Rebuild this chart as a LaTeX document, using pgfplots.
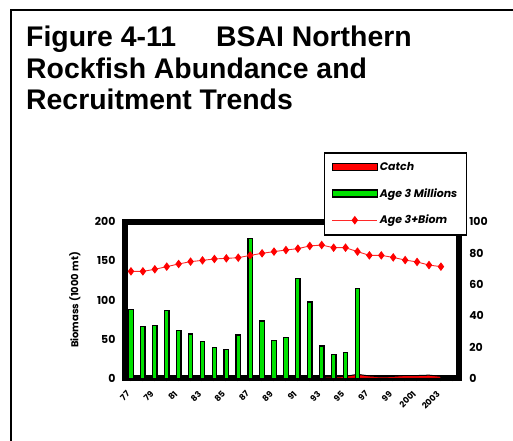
\documentclass[border=0pt]{standalone}
\usepackage{pgfplots}
\pgfplotsset{compat=1.18}
\usepackage{fontspec}
\setmainfont{Liberation Sans}
\newfontfamily\comic{Poppins}

\pgfplotstableread{
idx catch
0 0
1 0
2 0
3 0
4 0
5 0
6 0
7 0
8 0
9 0
10 0
11 0
12 0
13 0
14 0
15 0
16 1.5
17 2.0
18 2.5
19 5.0
20 3.0
21 2.0
22 2.5
23 3.5
24 3.5
25 4.0
26 2.5
}\catchtab

\pgfplotstableread{
idx age3
0 44.0
1 32.9
2 33.6
3 43.4
4 30.4
5 28.3
6 23.6
7 19.8
8 18.3
9 27.6
10 89.4
11 36.6
12 24.1
13 26.2
14 63.9
15 48.7
16 20.7
17 15.1
18 16.4
19 57.3
}\agetab

\pgfplotstableread{
idx biom
0 136.6
1 136.6
2 139.2
3 142.6
4 146.0
5 149.0
6 150.6
7 152.4
8 153.2
9 154.0
10 157.0
11 159.6
12 161.8
13 163.8
14 165.6
15 169.0
16 170.2
17 166.8
18 166.8
19 161.8
20 157.0
21 157.0
22 154.4
23 151.0
24 148.6
25 144.6
26 142.6
}\biomtab

\definecolor{bargreen}{RGB}{0,225,0}
\definecolor{biomred}{RGB}{255,40,40}

\pgfplotsset{
  base/.style={
    at={(125bp,62.7bp)}, anchor=south west,
    width=333.8bp, height=156.6bp, scale only axis,
    xmin=-0.5, xmax=27.5,
    axis line style={line width=6bp},
    tick style={line width=2bp, black},
    major tick length=3bp, minor tick length=3bp,
    /pgf/number format/assume math mode=true,
    ticklabel style={font=\comic\bfseries\fontsize{11}{13}\selectfont},
  }
}

\begin{document}
\begin{tikzpicture}
\useasboundingbox (0bp,0bp) rectangle (513bp,441bp);
\draw[line width=2bp] (11bp,-5bp) -- (11bp,431bp) -- (520bp,431bp);
\node[anchor=base west,inner sep=0pt,font=\bfseries\fontsize{28.5}{32}\selectfont] at (26bp,394.8bp) {Figure 4-11\hspace*{40bp}BSAI Northern};
\node[anchor=base west,inner sep=0pt,font=\bfseries\fontsize{28.5}{32}\selectfont] at (26bp,362.5bp) {Rockfish Abundance and};
\node[anchor=base west,inner sep=0pt,font=\bfseries\fontsize{28.5}{32}\selectfont] at (26bp,331.5bp) {Recruitment Trends};

% left axis: catch
\begin{axis}[base,
  ymin=0, ymax=200, ytick={0,50,...,200},
  xtick={0,2,...,26}, minor xtick={1,3,...,27},
  xtick pos=left, ytick pos=left, tick align=outside,
  xticklabels={77,79,81,83,85,87,89,91,93,95,97,99,2001,2003},
  xticklabel style={xshift=-5bp, yshift=-8bp, rotate=45, anchor=north east, font=\comic\bfseries\fontsize{8.5}{10}\selectfont, inner sep=0.5bp},
  yticklabel style={xshift=-3bp},
  ylabel={Biomass (1000 mt)},
  every axis y label/.style={at={(axis description cs:-0.15,0.5)}, rotate=90, anchor=center, font=\comic\bfseries\fontsize{10}{12}\selectfont},
]
\addplot[fill=red, draw=black, line width=1bp] table[x=idx,y=catch] {\catchtab} \closedcycle;
\end{axis}

% right axis: age 3 recruits
\begin{axis}[base,
  axis y line*=right, axis x line=none,
  ymin=0, ymax=100, ytick={0,20,...,100}, tick align=inside,
  yticklabel style={xshift=7bp},
]
\addplot[ybar, bar width=4.5bp, bar shift=0pt, fill=bargreen, draw=black, line width=1.3bp] table[x=idx,y=age3] {\agetab};
\end{axis}

% biomass on left scale, with legend
\begin{axis}[base, hide axis,
  ymin=0, ymax=200,
  legend style={at={(axis description cs:0.596,1.445)}, anchor=north west,
    draw=black, line width=1.5bp, fill=white,
    font=\comic\bfseries\itshape\fontsize{11}{12}\selectfont,
    row sep=12.5bp, inner xsep=7bp, inner ysep=7.5bp,
    legend cell align=left},
]
\addlegendimage{legend image code/.code={\draw[fill=red,draw=black,line width=1.2bp] (0bp,-3.5bp) rectangle (45bp,3.5bp);}}
\addlegendentry{Catch}
\addlegendimage{legend image code/.code={\draw[fill=bargreen,draw=black,line width=1.2bp] (0bp,-3.5bp) rectangle (45bp,3.5bp);}}
\addlegendentry{Age 3 Millions}
\addplot[biomred, line width=0.9bp, mark=diamond*, mark size=3.6bp, mark options={fill=red, draw=red},
  legend image code/.code={\draw[biomred,line width=0.9bp] (0bp,0bp) -- (45bp,0bp); \draw[red,fill=red] plot[mark=diamond*,mark size=3.6bp] coordinates {(22.5bp,0bp)};}]
  table[x=idx,y=biom] {\biomtab};
\addlegendentry{Age 3+Biom}
\end{axis}
\end{tikzpicture}
\end{document}
